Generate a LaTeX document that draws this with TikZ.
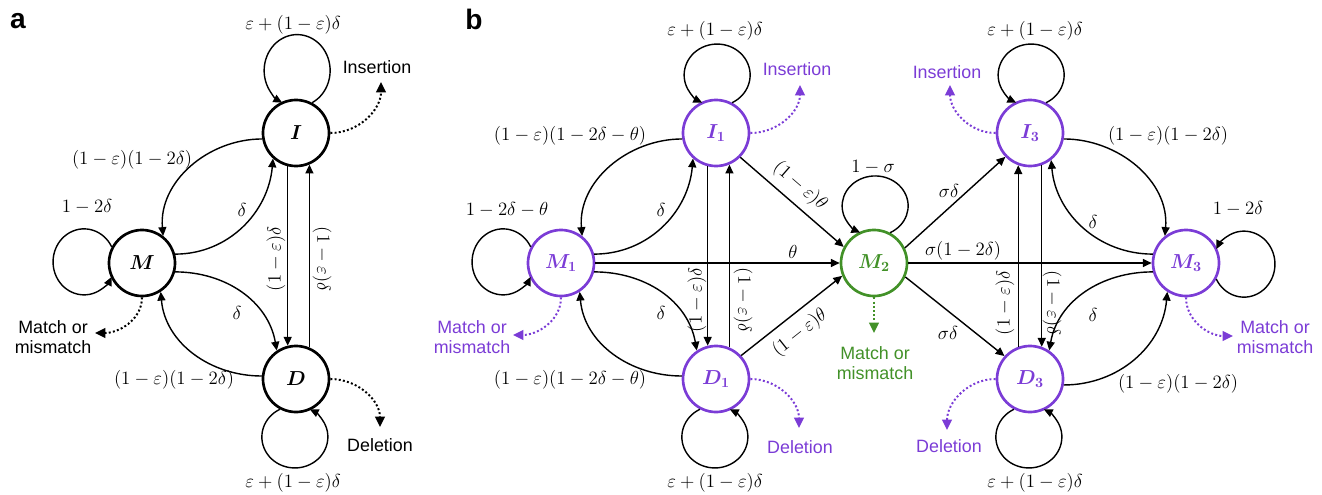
\RequirePackage{fix-cm}
\documentclass[tikz,border=0pt]{standalone}
\usepackage{amsmath,bm}
\usepackage{fontspec}
\setsansfont{Liberation Sans}
\usetikzlibrary{arrows.meta,positioning}
\definecolor{hpurple}{RGB}{123,60,214}
\definecolor{hgreen}{RGB}{66,145,40}
\begin{document}
\begin{tikzpicture}[x=0.025cm,y=0.025cm,
  hstate/.style={circle,draw,line width=1.9pt,minimum size=1.65cm,inner sep=0pt,font=\fontsize{14.4}{16}\selectfont},
  pstate/.style={hstate,draw=hpurple,text=hpurple},
  gstate/.style={hstate,draw=hgreen,text=hgreen},
  lbl/.style={font=\fontsize{13.4}{15}\selectfont,inner sep=0pt},
  txt/.style={font=\sffamily\fontsize{12.7}{14.2}\selectfont,align=center,inner sep=0pt},
  panel/.style={font=\sffamily\bfseries\fontsize{20}{22}\selectfont,inner sep=0pt},
  trans/.style={line width=1pt,-{Triangle[length=2.2mm,width=2mm]}},
  uploop/.style={trans,x radius=33,y radius=31},
  sideloop/.style={trans,x radius=31,y radius=33},
  emit/.style={line width=1.4pt,dash pattern=on 1.4pt off 1.6pt,-{Triangle[length=2.6mm,width=2.4mm]}}]
\useasboundingbox (0,0) rectangle (1322,-494);
% panel a
\node[panel] (pa) at (18,-21) {a};
\node[hstate] (I) at (296,-133) {$\bm{I}$};
\node[hstate] (M) at (142,-263) {$\bm{M}$};
\node[hstate] (D) at (296,-379) {$\bm{D}$};
\draw[uploop,y radius=36] (I.62) arc[start angle=-63,end angle=243];
\draw[sideloop] (M.152) arc[start angle=27,end angle=333];
\draw[uploop] (D.242) arc[start angle=117,end angle=423];
\draw[trans] (I.190) to[out=180,in=95] (M.52);
\draw[trans] (M.15) to[out=0,in=265] (I.228);
\draw[trans] (M.-15) to[out=0,in=100] (D.124);
\draw[trans] (D.175) to[out=180,in=-85] (M.-57);
\draw[trans] (I.256) -- (D.104);
\draw[trans] (D.67) -- (I.293);
\coordinate (insA) at (381,-82);
\coordinate (mmA) at (95,-333);
\coordinate (delA) at (380,-427);
\draw[emit] (I.east) to[out=0,in=-90] (insA);
\draw[emit] (M.south) to[out=-90,in=0] (mmA);
\draw[emit] (D.east) to[out=0,in=90] (delA);
\node[lbl] (lpI) at (293,-25) {$\varepsilon+(1-\varepsilon)\delta$};
\node[txt] (tinsA) at (377,-67) {Insertion};
\node[lbl] (lIM) at (132,-160) {$(1-\varepsilon)(1-2\delta)$};
\node[lbl] (lpM) at (87,-207) {$1-2\delta$};
\node[lbl] (lMI) at (242,-210) {$\delta$};
\node[lbl,rotate=90] (lIDa) at (276,-259) {$(1-\varepsilon)\delta$};
\node[lbl,rotate=-90] (lDIa) at (322,-259) {$(1-\varepsilon)\delta$};
\node[lbl] (lMD) at (237,-313) {$\delta$};
\node[txt] (tmmA) at (53,-337) {Match or\\mismatch};
\node[lbl] (lDM) at (174,-380) {$(1-\varepsilon)(1-2\delta)$};
\node[txt] (tdelA) at (380,-445) {Deletion};
\node[lbl] (lpD) at (293,-483) {$\varepsilon+(1-\varepsilon)\delta$};
% panel b
\node[panel] (pb) at (474,-19) {b};
\node[pstate] (I1) at (716,-133) {$\bm{I_1}$};
\node[pstate] (M1) at (561,-263) {$\bm{M_1}$};
\node[pstate] (D1) at (716,-379) {$\bm{D_1}$};
\node[gstate] (M2) at (874,-263) {$\bm{M_2}$};
\node[pstate] (I3) at (1030,-133) {$\bm{I_3}$};
\node[pstate] (M3) at (1186,-263) {$\bm{M_3}$};
\node[pstate] (D3) at (1030,-379) {$\bm{D_3}$};
\draw[uploop] (I1.62) arc[start angle=-63,end angle=243];
\draw[sideloop] (M1.152) arc[start angle=27,end angle=333];
\draw[uploop] (D1.242) arc[start angle=117,end angle=423];
\draw[uploop,y radius=30] (M2.62) arc[start angle=-63,end angle=243];
\draw[uploop] (I3.62) arc[start angle=-63,end angle=243];
\draw[sideloop] (M3.-28) arc[start angle=-153,end angle=153];
\draw[uploop] (D3.242) arc[start angle=117,end angle=423];
\draw[trans] (I1.190) to[out=180,in=95] (M1.52);
\draw[trans] (M1.15) to[out=0,in=265] (I1.228);
\draw[trans] (M1.-15) to[out=0,in=100] (D1.124);
\draw[trans] (D1.175) to[out=180,in=-85] (M1.-57);
\draw[trans] (I1.256) -- (D1.104);
\draw[trans] (D1.67) -- (I1.293);
\draw[trans] (M1) -- (M2);
\draw[trans] (I1.-45) -- (M2.152);
\draw[trans] (D1.43) -- (M2.202);
\draw[trans] (M2.26) -- (I3.224);
\draw[trans] (M2) -- (M3);
\draw[trans] (M2.-24) -- (D3.138);
\draw[trans] (I3.-10) to[out=0,in=85] (M3.128);
\draw[trans] (M3.165) to[out=180,in=-85] (I3.-52);
\draw[trans] (M3.195) to[out=180,in=80] (D3.56);
\draw[trans] (D3.-10) to[out=0,in=265] (M3.237);
\draw[trans] (D3.110) -- (I3.250);
\draw[trans] (I3.290) -- (D3.70);
\coordinate (insB1) at (800,-85);
\coordinate (mmB1) at (513,-335);
\coordinate (delB1) at (799,-428);
\coordinate (mmB2) at (874,-333);
\coordinate (insB3) at (950,-85);
\coordinate (mmB3) at (1233,-336);
\coordinate (delB3) at (947,-430);
\draw[emit,hpurple] (I1.east) to[out=0,in=-90] (insB1);
\draw[emit,hpurple] (M1.south) to[out=-90,in=0] (mmB1);
\draw[emit,hpurple] (D1.east) to[out=0,in=90] (delB1);
\draw[emit,hgreen] (M2.south) -- (mmB2);
\draw[emit,hpurple] (I3.west) to[out=180,in=-90] (insB3);
\draw[emit,hpurple] (M3.south) to[out=-90,in=180] (mmB3);
\draw[emit,hpurple] (D3.west) to[out=180,in=90] (delB3);
\node[lbl] (lpI1) at (715,-31) {$\varepsilon+(1-\varepsilon)\delta$};
\node[txt,hpurple] (tinsB1) at (797,-69) {Insertion};
\node[lbl] (lI1M1) at (570,-136) {$(1-\varepsilon)(1-2\delta-\theta)$};
\node[lbl] (lpM1) at (507,-210) {$1-2\delta-\theta$};
\node[lbl] (lM1I1) at (661,-210) {$\delta$};
\node[lbl] (lM1M2) at (793,-252) {$\theta$};
\node[lbl,rotate=90] (lI1D1) at (697,-300) {$(1-\varepsilon)\delta$};
\node[lbl,rotate=-90] (lD1I1) at (743,-300) {$(1-\varepsilon)\delta$};
\node[lbl] (lM1D1) at (661,-313) {$\delta$};
\node[txt,hpurple] (tmmB1) at (472,-337) {Match or\\mismatch};
\node[lbl] (lD1M1) at (570,-380) {$(1-\varepsilon)(1-2\delta-\theta)$};
\node[txt,hpurple] (tdelB1) at (800,-447) {Deletion};
\node[lbl] (lpD1) at (715,-483) {$\varepsilon+(1-\varepsilon)\delta$};
\node[lbl,rotate=-41] (lI1M2) at (800,-186) {$(1-\varepsilon)\theta$};
\node[lbl,rotate=38.5] (lD1M2) at (800,-333) {$(1-\varepsilon)\theta$};
\node[lbl] (lpM2) at (873,-167) {$1-\sigma$};
\node[txt,hgreen] (tmmB2) at (875,-363) {Match or\\mismatch};
\node[lbl] (lpI3) at (1035,-31) {$\varepsilon+(1-\varepsilon)\delta$};
\node[txt,hpurple] (tinsB3) at (947,-72) {Insertion};
\node[lbl] (lM2I3) at (949,-191) {$\sigma\delta$};
\node[lbl] (lM2M3) at (963,-251) {$\sigma(1-2\delta)$};
\node[lbl] (lM2D3) at (948,-333) {$\sigma\delta$};
\node[lbl,rotate=90] (lD3I3) at (1005,-303) {$(1-\varepsilon)\delta$};
\node[lbl,rotate=-90] (lI3D3) at (1052,-303) {$(1-\varepsilon)\delta$};
\node[lbl] (lI3M3) at (1168,-136) {$(1-\varepsilon)(1-2\delta)$};
\node[lbl] (lM3I3) at (1093,-222) {$\delta$};
\node[lbl] (lpM3) at (1238,-209) {$1-2\delta$};
\node[lbl] (lM3D3) at (1093,-315) {$\delta$};
\node[txt,hpurple] (tmmB3) at (1275,-337) {Match or\\mismatch};
\node[lbl] (lD3M3) at (1178,-384) {$(1-\varepsilon)(1-2\delta)$};
\node[txt,hpurple] (tdelB3) at (949,-446) {Deletion};
\node[lbl] (lpD3) at (1035,-483) {$\varepsilon+(1-\varepsilon)\delta$};
\end{tikzpicture}
\end{document}
